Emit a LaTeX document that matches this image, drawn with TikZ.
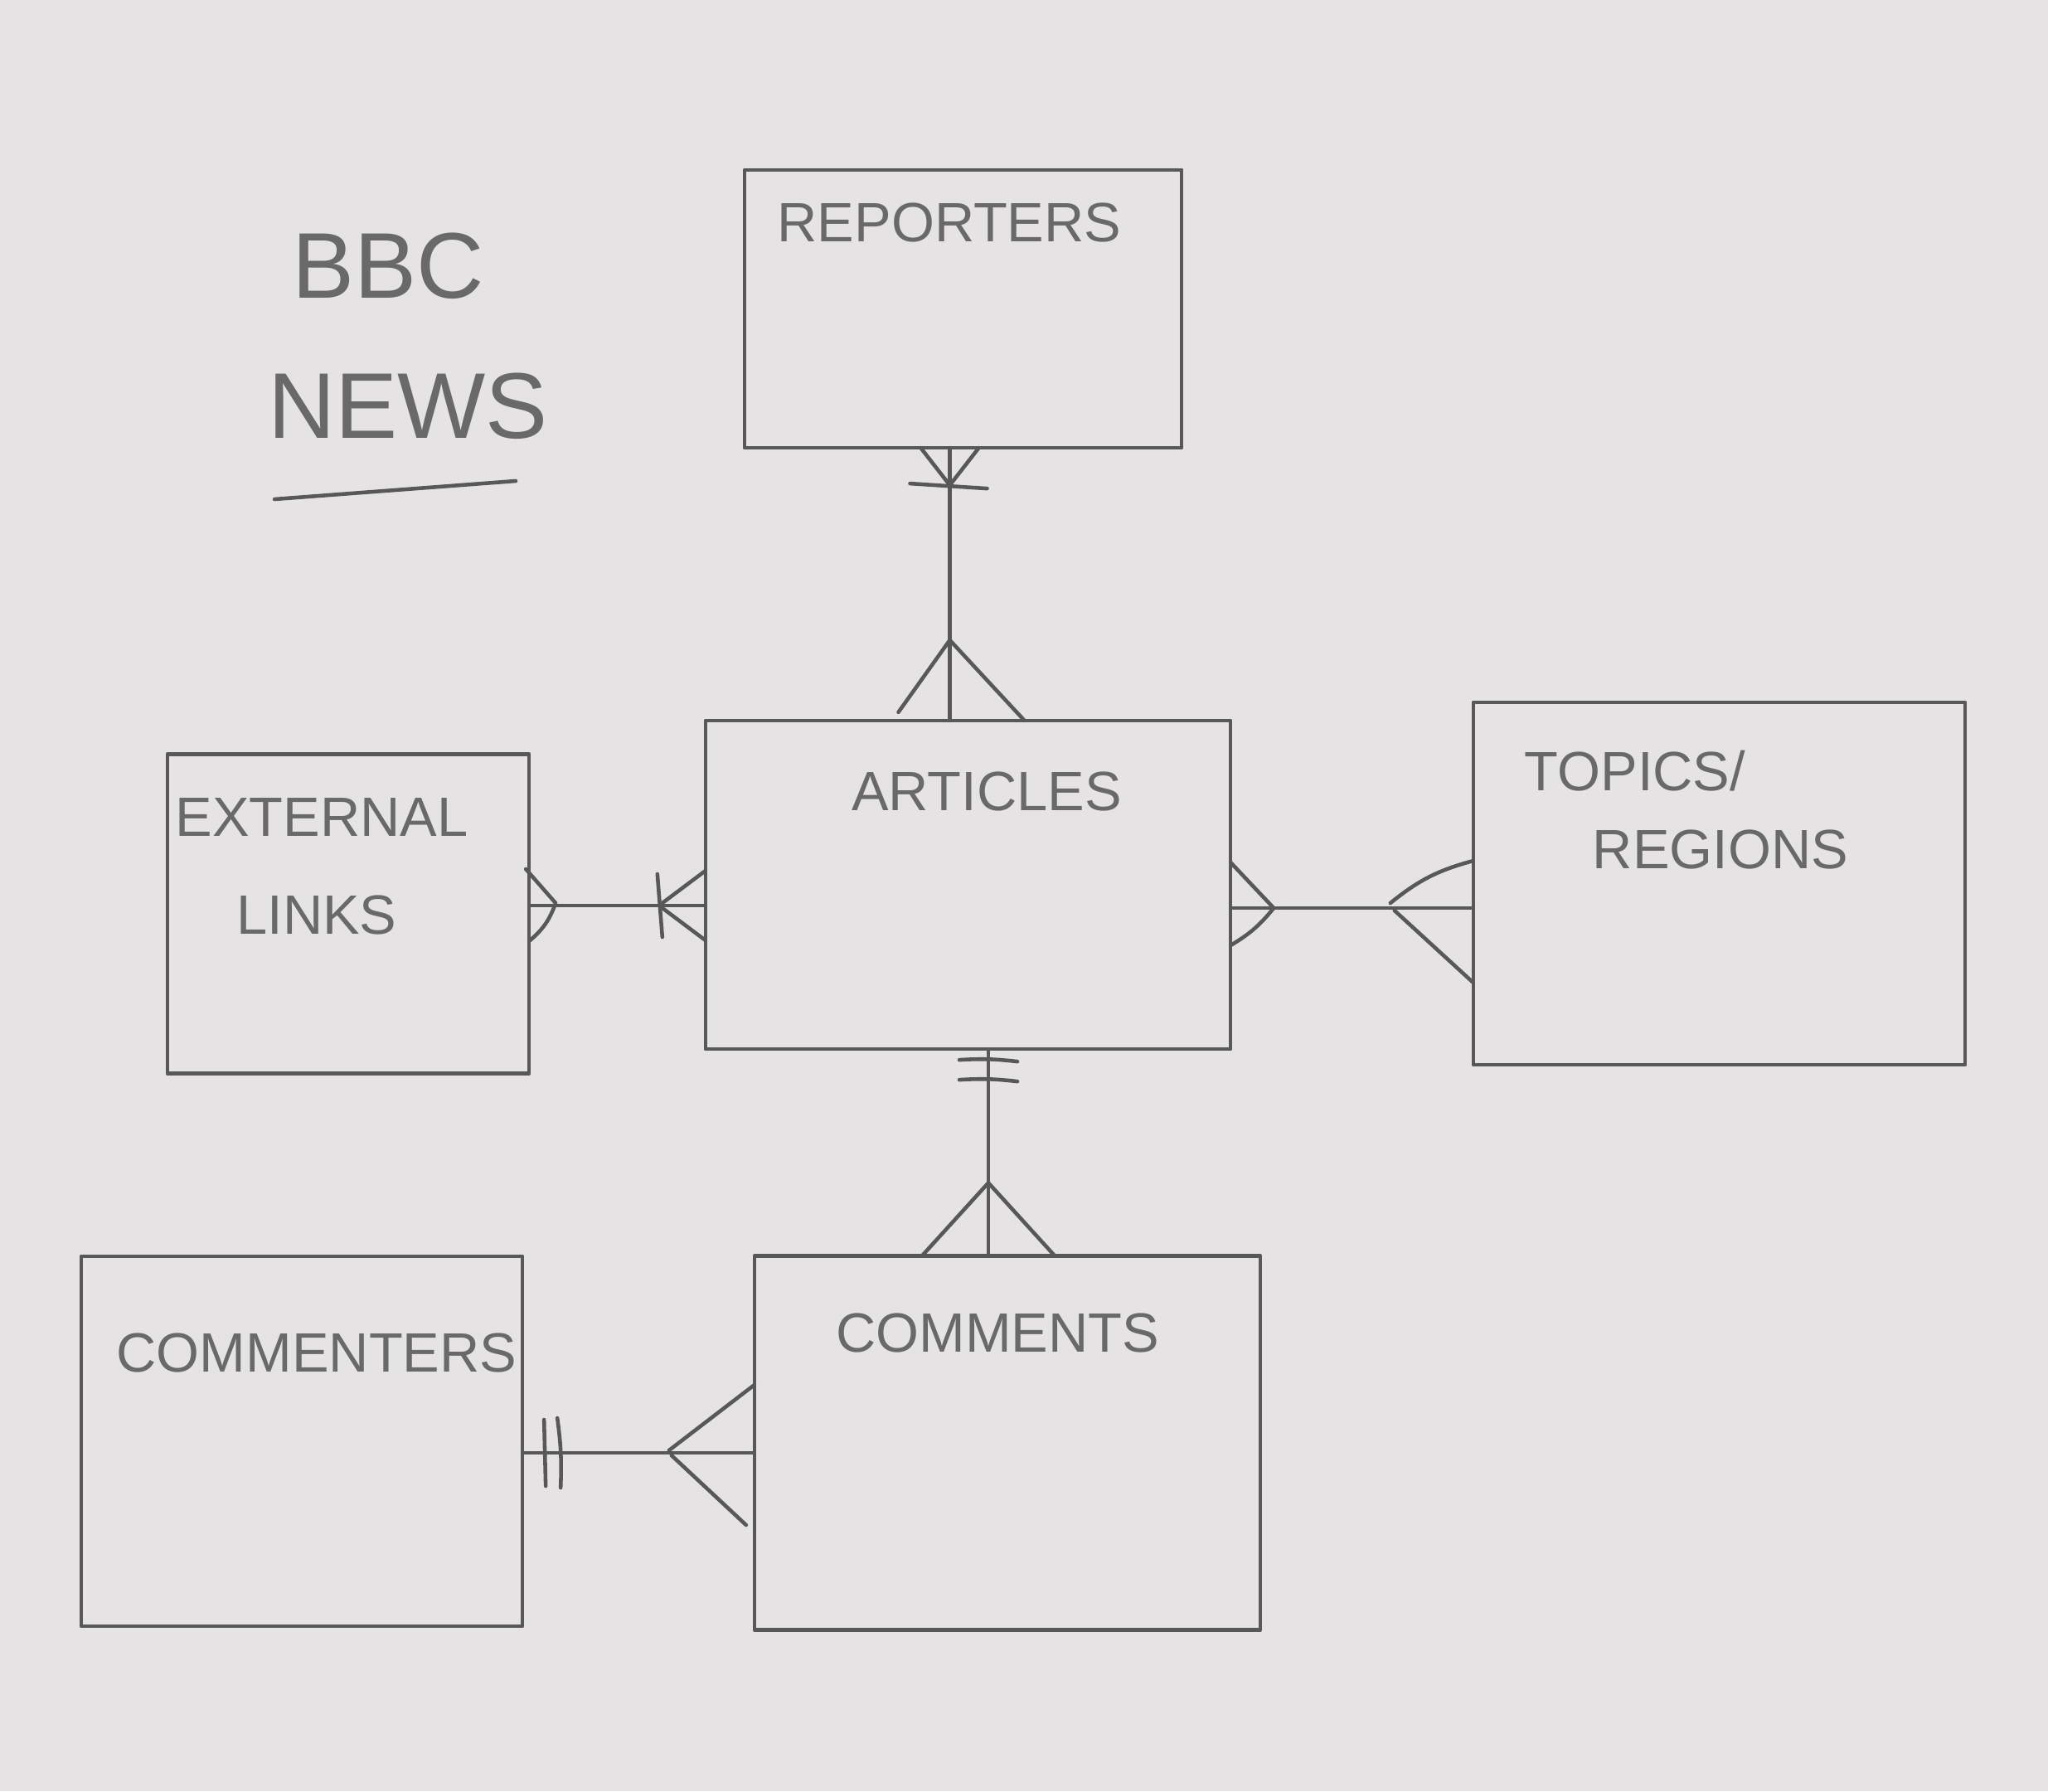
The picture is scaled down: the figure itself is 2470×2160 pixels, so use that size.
\documentclass[tikz,border=0pt]{standalone}
\usepackage{fontspec}
\setmainfont{Liberation Sans}
\usepackage{xcolor}
\usepackage{tikz}
\usetikzlibrary{positioning, calc}

\definecolor{pencil}{RGB}{88,88,88}
\definecolor{lead}{RGB}{105,105,105}
\definecolor{paper}{RGB}{229,227,228}

\begin{document}
\begin{tikzpicture}[
    x=0.01cm, y=-0.01cm,
    line width=1.3pt, draw=pencil, line cap=round, line join=round,
    entity/.style={draw=pencil, rectangle, inner sep=0pt, outer sep=0pt},
    entname/.style={anchor=base, inner sep=0pt, text=lead, font=\fontsize{19}{23}\selectfont},
    heading/.style={anchor=base, inner sep=0pt, text=lead, font=\fontsize{32}{38}\selectfont}
]
    % Paper
    \fill[paper] (0,0) rectangle (2470,2160);

    % Title
    \node[heading] (bbc) at (468,359) {BBC};
    \node[heading] (news) at (492,528) {NEWS};
    \draw (331,602) -- (622,580);

    % Entities
    \node[entity, minimum width=5.27cm, minimum height=3.35cm] (rep) at (1161.5,372.5) {};
    \node[entity, minimum width=6.33cm, minimum height=3.96cm] (art) at (1167.5,1067) {};
    \node[entity, minimum width=4.36cm, minimum height=3.85cm] (ext) at (420,1102) {};
    \node[entity, minimum width=5.93cm, minimum height=4.37cm] (top) at (2073.5,1065.5) {};
    \node[entity, minimum width=5.32cm, minimum height=4.46cm] (cmr) at (364,1738) {};
    \node[entity, minimum width=6.10cm, minimum height=4.51cm] (com) at (1215,1740) {};

    % Entity names
    \node[entname] (reptxt) at (1145,291) {REPORTERS};
    \node[entname] (arttxt) at (1190,977) {ARTICLES};
    \node[entname] (exttxt) at (388,1008) {EXTERNAL};
    \node[entname] (lnktxt) at (382,1126) {LINKS};
    \node[entname] (toptxt) at (1972,953) {TOPICS/};
    \node[entname] (regtxt) at (2075,1047) {REGIONS};
    \node[entname] (cmrtxt) at (382,1654) {COMMENTERS};
    \node[entname] (comtxt) at (1203,1630) {COMMENTS};

    % Connection ends
    \coordinate (r1) at ([xshift=-0.16cm]rep.south);
    \coordinate (r2) at (r1 |- art.north);
    \coordinate (e1) at ([yshift=0.1cm]ext.east);
    \coordinate (e2) at (e1 -| art.west);
    \coordinate (t1) at ([yshift=-0.28cm]art.east);
    \coordinate (t2) at (t1 -| top.west);
    \coordinate (a1) at ([xshift=0.245cm]art.south);
    \coordinate (c2) at (a1 |- com.north);
    \coordinate (m1) at ([yshift=-0.14cm]cmr.east);
    \coordinate (m2) at (m1 -| com.west);

    % Connections
    \draw (r1) -- (r2);
    \draw (e1) -- (e2);
    \draw (t1) -- (t2);
    \draw (a1) -- (c2);
    \draw (m1) -- (m2);

    % REPORTERS -- ARTICLES
    \draw ($(r1)+(-35,0)$) -- ($(r1)+(0,45)$) -- ($(r1)+(35,0)$);
    \draw ($(r1)+(-48,43)$) -- ($(r1)+(45,49)$);
    \draw ($(r2)+(-62,-10)$) -- ($(r2)+(0,-97)$) -- ($(r2)+(90,0)$);

    % EXTERNAL LINKS -- ARTICLES
    \draw ($(e1)+(-4,-44)$) -- ($(e1)+(32,-3)$) to[bend left=15] ($(e1)+(0,43)$);
    \draw ($(e2)+(0,-42)$) -- ($(e2)+(-56,0)$) -- ($(e2)+(0,42)$);
    \draw ($(e2)+(-58,-38)$) -- ($(e2)+(-52,38)$);

    % ARTICLES -- TOPICS/REGIONS
    \draw ($(t1)+(0,-55)$) -- ($(t1)+(52,0)$) to[bend left=10] ($(t1)+(0,45)$);
    \draw ($(t2)+(0,-57)$) to[bend right=12] ($(t2)+(-100,-6)$);
    \draw ($(t2)+(-95,3)$) -- ($(t2)+(0,90)$);

    % ARTICLES -- COMMENTS
    \draw ($(a1)+(-35,13)$) to[bend left=5] ($(a1)+(35,15)$);
    \draw ($(a1)+(-35,37)$) to[bend left=5] ($(a1)+(35,39)$);
    \draw ($(c2)+(-80,0)$) -- ($(c2)+(0,-88)$) -- ($(c2)+(80,0)$);

    % COMMENTERS -- COMMENTS
    \draw ($(m1)+(26,-40)$) -- ($(m1)+(28,40)$);
    \draw ($(m1)+(42,-42)$) to[bend left=5] ($(m1)+(46,42)$);
    \draw ($(m2)+(0,-82)$) -- ($(m2)+(-103,-3)$);
    \draw ($(m2)+(-100,3)$) -- ($(m2)+(-10,87)$);
\end{tikzpicture}
\end{document}
